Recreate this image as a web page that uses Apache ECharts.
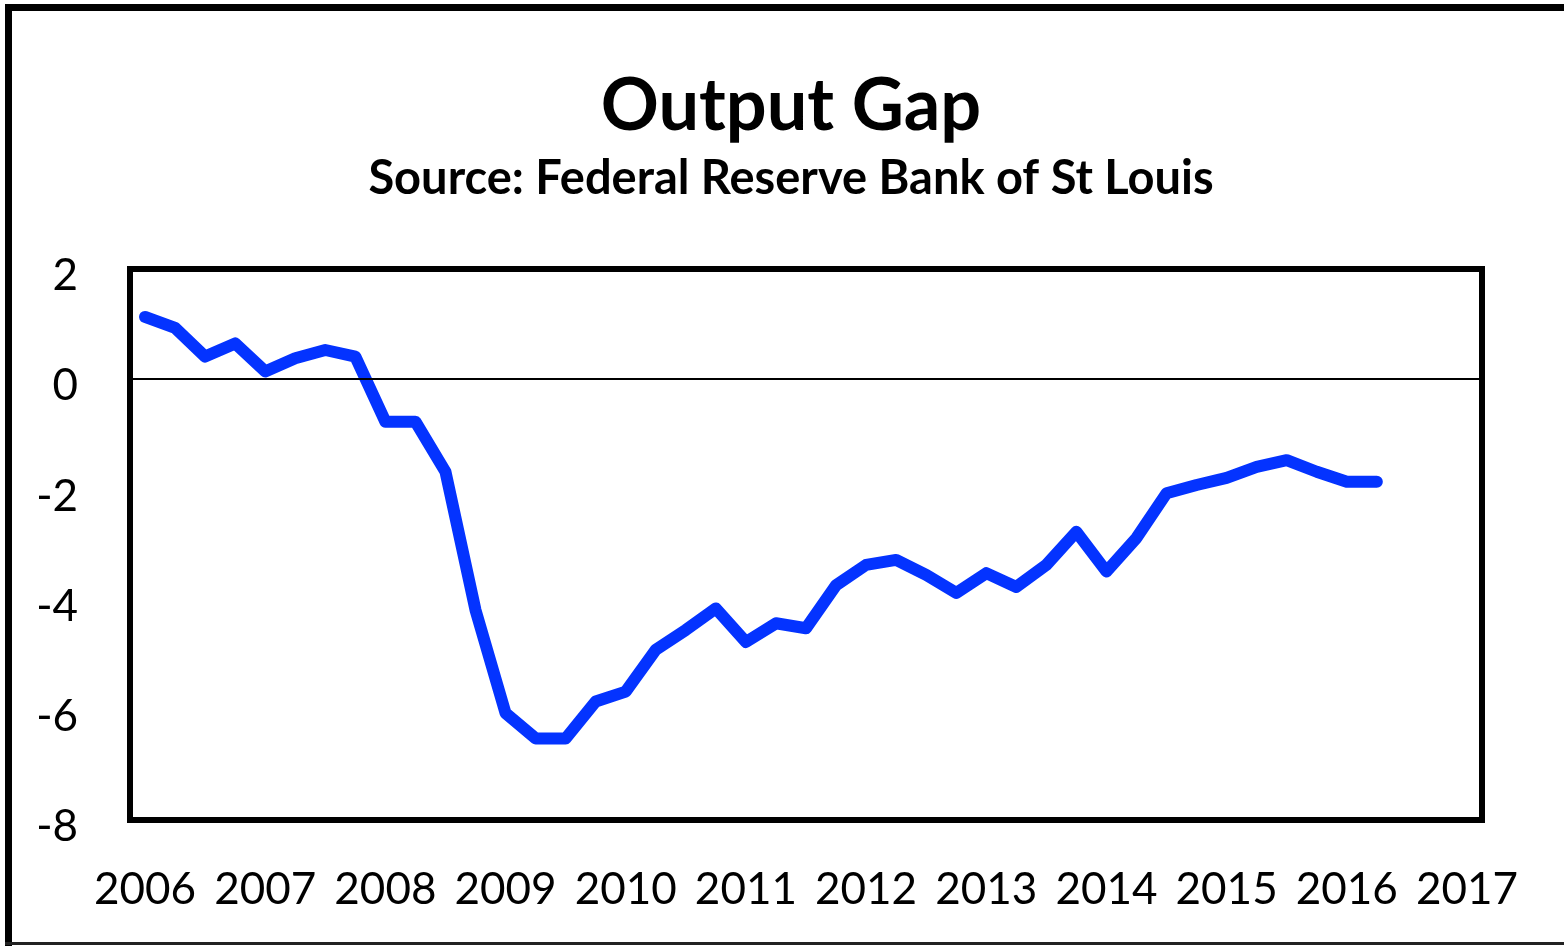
<!DOCTYPE html>
<html>
<head>
<meta charset="utf-8">
<script src="https://cdn.jsdelivr.net/npm/echarts@6/dist/echarts.min.js"></script>
<style>html,body{margin:0;padding:0;background:#fff}#c{width:1564px;height:946px}</style>
</head>
<body>
<div id="c"></div>
<script>
const titleText = 'Output Gap';
const subtitleText = 'Source: Federal Reserve Bank of St Louis';
const years = ['2006','2007','2008','2009','2010','2011','2012','2013','2014','2015','2016','2017'];
const quarters = ['Q1','Q2','Q3','Q4'];
// quarterly categories 2006Q1 .. 2017Q1
const categories = [];
years.forEach(function (y, i) {
  quarters.forEach(function (q, j) {
    if (i < years.length - 1 || j === 0) categories.push(y + ' ' + q);
  });
});
const outputGap = [
  1.13, 0.93, 0.41, 0.65, 0.14, 0.38, 0.53, 0.41,
  -0.77, -0.77, -1.68, -4.19, -6.06, -6.52, -6.52, -5.85,
  -5.67, -4.91, -4.55, -4.16, -4.77, -4.43, -4.52, -3.74,
  -3.37, -3.28, -3.55, -3.88, -3.52, -3.77, -3.37, -2.77,
  -3.49, -2.88, -2.07, -1.92, -1.79, -1.59, -1.47, -1.68,
  -1.86, -1.86
];
const yMin = -8, yMax = 2, yStep = 2;

const font = 'Lato, "Open Sans", sans-serif';
const chart = echarts.init(document.getElementById('c'), null, {renderer: 'canvas'});
chart.setOption({
  animation: false,
  backgroundColor: '#fff',
  title: [
    {text: titleText, left: 791, top: 71, textAlign: 'center', padding: 0,
     textStyle: {fontFamily: font, fontWeight: 'bold', fontSize: 72, color: '#000'}},
    {text: subtitleText, left: 791, top: 155, textAlign: 'center', padding: 0,
     textStyle: {fontFamily: font, fontWeight: 'bold', fontSize: 47, color: '#000'}}
  ],
  graphic: [
    {type: 'rect', shape: {x: 5, y: 4, width: 7, height: 942}, style: {fill: '#000'}},
    {type: 'rect', shape: {x: 5, y: 4, width: 1559, height: 7}, style: {fill: '#000'}},
    {type: 'rect', shape: {x: 5, y: 942, width: 1559, height: 3}, style: {fill: '#222'}}
  ],
  grid: {left: 130, top: 269, right: 82, bottom: 126, show: true,
         borderColor: '#000', borderWidth: 6, backgroundColor: '#fff'},
  xAxis: {
    type: 'category', data: categories, boundaryGap: true,
    axisLine: {show: false}, axisTick: {show: false}, splitLine: {show: false},
    axisLabel: {interval: 3, margin: 48, color: '#000', fontFamily: font, fontSize: 44,
      formatter: function (v) { return v.slice(0, 4); }}
  },
  yAxis: {
    type: 'value', min: yMin, max: yMax, interval: yStep,
    axisLine: {show: false}, axisTick: {show: false}, splitLine: {show: false},
    axisLabel: {margin: 52, color: '#000', fontFamily: font, fontSize: 44,
      formatter: '{v|{value}}',
      rich: {v: {fontFamily: font, fontSize: 44, color: '#000', padding: [14, 0, 0, 0]}}}
  },
  series: [
    {type: 'line', data: [], z: 1, silent: true,
     markLine: {silent: true, symbol: ['none', 'none'], label: {show: false},
       lineStyle: {color: '#000', width: 2, type: 'solid'}, data: [{yAxis: 0}]}},
    {type: 'line', data: outputGap, z: 3, symbol: 'none', smooth: false,
     lineStyle: {color: '#0433FF', width: 12, cap: 'round', join: 'round'}}
  ]
});
</script>
</body>
</html>
